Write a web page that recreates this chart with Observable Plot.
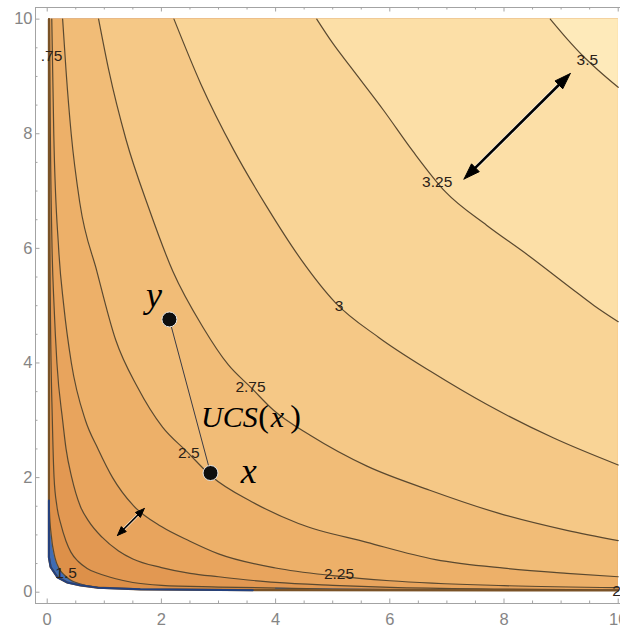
<!DOCTYPE html>
<html><head><meta charset="utf-8">
<script src="https://cdn.jsdelivr.net/npm/d3@7"></script>
<script src="https://cdn.jsdelivr.net/npm/@observablehq/plot@0.6"></script>
<style>html,body{margin:0;padding:0;background:#fff;overflow:hidden}</style>
</head><body><div id="chart"></div>
<script>
// ---------- data ----------
const levels = [1.5, 1.75, 2, 2.25, 2.5, 2.75, 3, 3.25, 3.5];

const contour150 = [[0.012,4],[0.025,2],[0.04,1.4],[0.07,1.0],[0.137,0.6],[0.216,0.4],[0.3,0.3],[0.4,0.216],[0.6,0.137],[1.0,0.07],[1.4,0.04],[2,0.025],[4,0.012]];
const contour175 = [[0.03,10],[0.04,7],[0.055,5],[0.09,3],[0.12,2],[0.17,1.5],[0.235,1.2],[0.33,0.89],[0.415,0.7],[0.54,0.54],[0.7,0.415],[0.89,0.33],[1.2,0.235],[1.5,0.17],[2,0.12],[3,0.09],[5,0.055],[7,0.04],[10,0.03]];
const contour200 = [[0.04,10],[0.055,8],[0.085,6],[0.12,5],[0.17,4],[0.27,3],[0.33,2.5],[0.43,2],[0.58,1.5],[0.72,1.25],[0.96,0.96],[1.25,0.72],[1.5,0.58],[2,0.43],[2.5,0.33],[3,0.27],[4,0.17],[5,0.12],[6,0.085],[8,0.055],[10,0.04]];
const contour225 = [[0.08,10],[0.115,8],[0.2,6],[0.29,5],[0.423,4],[0.669,3],[0.89,2.5],[1.145,2],[1.51,1.51],[2,1.145],[2.5,0.89],[3,0.669],[4,0.423],[5,0.29],[6,0.2],[8,0.115],[10,0.08]];
const contour250 = [[0.27,10],[0.33,9.1],[0.42,8],[0.57,6.8],[0.87,5.6],[1.2,4.4],[1.58,3.58],[2.02,2.88],[2.45,2.45],[2.88,2.02],[3.58,1.58],[4.4,1.2],[5.6,0.87],[6.8,0.57],[8,0.42],[9.1,0.33],[10,0.27]];
const contour275 = [[0.9,10],[1.08,9.1],[1.38,7.9],[1.78,6.7],[2.2,5.6],[2.73,4.62],[3.17,3.97],[3.57,3.57],[3.97,3.17],[4.62,2.73],[5.6,2.2],[6.7,1.78],[7.9,1.38],[9.1,1.08],[10,0.9]];
const contour300 = [[2.22,10],[2.69,8.87],[3.27,7.71],[3.85,6.72],[4.45,5.8],[5.05,5.05],[5.8,4.45],[6.72,3.85],[7.71,3.27],[8.87,2.69],[10,2.22]];
const contour325 = [[4.72,10],[5.0,9.58],[5.31,9.17],[5.89,8.41],[6.4,7.7],[6.98,6.98],[7.7,6.4],[8.41,5.89],[9.17,5.31],[9.58,5.0],[10,4.72]];
const contour350 = [[8.81,10],[9.1,9.66],[9.37,9.37],[9.66,9.1],[10,8.81]];

// edge of the shaded region (white outside it)
const shadedEdge = [[0.03,10],[0.03,0.61],[0.06,0.44],[0.18,0.26],[0.35,0.17],[0.58,0.12],[0.88,0.08],[1.63,0.05],[4,0.035],[10,0.03]];
const blueEdge = [[0.03,1.6],[0.03,0.61],[0.06,0.44],[0.18,0.26],[0.35,0.17],[0.58,0.12],[0.88,0.08],[1.63,0.05],[3.6,0.036]];

const labelText = ["3.5","3.25","3","2.75","2.5","2.25","2","1.5",".75"];
const labelX    = [9.46, 6.83, 5.11, 3.56, 2.48, 5.11, 9.97, 0.33, 0.075];
const labelY    = [9.28, 7.15, 5.00, 3.58, 2.42, 0.31, 0.02, 0.33, 9.36];

const pointNames = ["y","x"];
const pointX = [2.14, 2.86];
const pointY = [4.76, 2.08];

const arrowX1 = [7.30, 1.23];
const arrowY1 = [7.21, 0.99];
const arrowX2 = [9.16, 1.70];
const arrowY2 = [9.05, 1.46];

const noteText = ["y", "x", "UCS", "(", "x", ")"];
const noteX = [1.87, 3.53, 3.19, 3.79, 4.03, 4.35];
const noteY = [5.18, 2.11, 3.05, 3.06, 3.05, 3.06];

const xTickLabels = [0, 2, 4, 6, 8, 10];
const yTickLabels = [0, 2, 4, 6, 8, 10];
const minorTicks = [0,0.5,1,1.5,2,2.5,3,3.5,4,4.5,5,5.5,6,6.5,7,7.5,8,8.5,9,9.5,10];

// ---------- styles ----------
const bandColors = ["#3f6cb4","#dd9049","#e29852","#e8a45d","#edb069","#f1bc77","#f5c886","#f9d496","#fcdfa7","#feeaba"];
const lineColor = "#5a4930";
const arrowHead = [[16, 11, 2.6], [9, 7, 1.6]]; // length px, width px, shaft px
const noteSize = [36, 36, 30, 32, 30, 32];
const noteStyle = ["italic", "italic", "italic", "normal", "italic", "normal"];
const PX = 57.2;
const xDom = [-0.205, 10.195], yDom = [-0.197, 10.203];

// ---------- build tables ----------
const contourPts = [contour150, contour175, contour200, contour225, contour250, contour275, contour300, contour325, contour350];
const contourRows = contourPts.flatMap((pts, i) => pts.map(([x, y]) => ({level: levels[i], x, y})));
const rowsOf = (i) => contourRows.filter(d => d.level === levels[i]);
const edgeRows = shadedEdge.map(([x, y]) => ({x, y}));
const blueRows = blueEdge.map(([x, y]) => ({x, y}));
const labels = labelText.map((t, i) => ({t, x: labelX[i], y: labelY[i]}));
const points = pointNames.map((n, i) => ({n, x: pointX[i], y: pointY[i]}));
const notes = noteText.map((t, i) => ({t, x: noteX[i], y: noteY[i], size: noteSize[i], style: noteStyle[i]}));

const shafts = [], heads = [];
arrowX1.forEach((x1, i) => {
  const y1 = arrowY1[i], x2 = arrowX2[i], y2 = arrowY2[i];
  const [hl, hw, sw] = arrowHead[i];
  const d = Math.hypot(x2 - x1, y2 - y1), ux = (x2 - x1) / d, uy = (y2 - y1) / d;
  const L = hl / PX, W = hw / PX / 2;
  const mk = (tx, ty, sx, sy, id) => {
    const bx = tx - sx * L, by = ty - sy * L;
    heads.push({id, x: tx, y: ty}, {id, x: bx - sy * W, y: by + sx * W}, {id, x: bx + sy * W, y: by - sx * W}, {id, x: tx, y: ty});
  };
  mk(x2, y2, ux, uy, i + "b");
  mk(x1, y1, -ux, -uy, i + "a");
  shafts.push({x1: x1 + ux * L * 0.7, y1: y1 + uy * L * 0.7, x2: x2 - ux * L * 0.7, y2: y2 - uy * L * 0.7, sw});
});

const sans = "Liberation Sans, Arial, Helvetica, sans-serif";
const serif = "Liberation Serif, Times New Roman, DejaVu Serif, serif";
const tickLen = (v) => (v % 2 === 0 ? 4.5 : 2.5) / PX;

const marks = [];
marks.push(Plot.areaY(edgeRows, {x: "x", y1: "y", y2: () => 10, fill: bandColors[0], curve: "linear"}));
levels.forEach((L, i) => {
  marks.push(Plot.areaY(rowsOf(i), {x: "x", y1: "y", y2: () => 10, fill: bandColors[i + 1], curve: "monotone-x"}));
});
marks.push(Plot.line(contourRows, {x: "x", y: "y", z: "level", stroke: lineColor, strokeWidth: 1.2, curve: "monotone-x"}));
marks.push(Plot.areaY(edgeRows, {x: "x", y1: () => yDom[0], y2: "y", fill: "white", curve: "linear"}));
marks.push(Plot.rect([0], {x1: xDom[0], x2: 0.03, y1: yDom[0], y2: yDom[1], fill: "white"}));
marks.push(Plot.line(edgeRows, {x: "x", y: "y", stroke: "#7a5226", strokeWidth: 2.2, curve: "linear"}));
marks.push(Plot.line(blueRows, {x: "x", y: "y", stroke: "#22407e", strokeWidth: 2, curve: "linear"}));
marks.push(Plot.text(labels, {x: "x", y: "y", text: "t", fontSize: 15.5, fill: "#2a2118", fontFamily: sans}));
marks.push(Plot.link([0], {x1: () => pointX[0], y1: () => pointY[0], x2: () => pointX[1], y2: () => pointY[1], stroke: "#3b3b44", strokeWidth: 1}));
marks.push(Plot.dot(points, {x: "x", y: "y", r: 7.5, fill: "#0e0e0e", stroke: "#e8e8e8", strokeWidth: 1}));
marks.push(Plot.link(shafts, {x1: "x1", y1: "y1", x2: "x2", y2: "y2", stroke: "white", strokeWidth: d => d.sw + 1.5, strokeOpacity: 0.7}));
marks.push(Plot.link(shafts, {x1: "x1", y1: "y1", x2: "x2", y2: "y2", stroke: "#000", strokeWidth: "sw"}));
marks.push(Plot.line(heads, {x: "x", y: "y", z: "id", fill: "#000", stroke: "#000", strokeWidth: 1, curve: "linear"}));
notes.forEach(n => {
  marks.push(Plot.text([n], {x: "x", y: "y", text: "t", fontSize: n.size, fontStyle: n.style, fontFamily: serif, fill: "#000"}));
});
marks.push(Plot.ruleX([xDom[0]], {y1: yDom[0], y2: yDom[1], stroke: "#a3a3a3", strokeWidth: 1}));
marks.push(Plot.ruleY([yDom[0], yDom[1]], {x1: xDom[0], x2: 10.6, stroke: "#a3a3a3", strokeWidth: 1}));
marks.push(Plot.ruleX(minorTicks, {x: d => d, y1: yDom[0], y2: d => yDom[0] + tickLen(d), stroke: "#a3a3a3"}));
marks.push(Plot.ruleX(minorTicks, {x: d => d, y1: yDom[1], y2: d => yDom[1] - tickLen(d), stroke: "#a3a3a3"}));
marks.push(Plot.ruleY(minorTicks, {y: d => d, x1: xDom[0], x2: d => xDom[0] + tickLen(d), stroke: "#a3a3a3"}));
marks.push(Plot.text(xTickLabels, {x: d => d, y: () => yDom[0], dy: 16, text: d => String(d), fontSize: 16.5, fill: "#858585", fontFamily: sans}));
marks.push(Plot.text(yTickLabels, {x: () => xDom[0], y: d => d, dx: -3, textAnchor: "end", text: d => String(d), fontSize: 16.5, fill: "#858585", fontFamily: sans}));

const chart = Plot.plot({
  width: 620, height: 627,
  marginLeft: 35, marginRight: 0, marginTop: 7, marginBottom: 24,
  x: {domain: xDom, range: [35, 35 + 10.4 * 57.1], axis: null},
  y: {domain: yDom, range: [603, 7], axis: null},
  style: {background: "white", overflow: "hidden"},
  marks
});
document.getElementById("chart").appendChild(chart);
</script>
</body></html>
